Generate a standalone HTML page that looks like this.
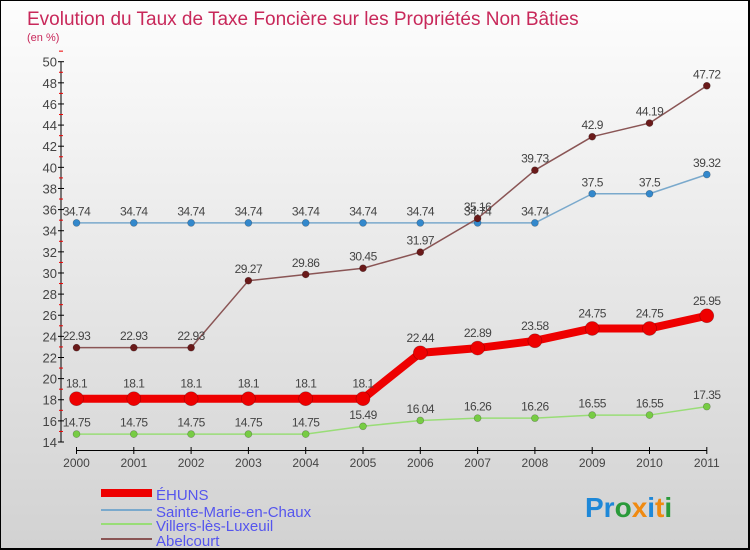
<!DOCTYPE html>
<html><head><meta charset="utf-8"><style>
body{margin:0}
#c{position:relative;width:750px;height:550px;box-sizing:border-box;border:1px solid #000;border-width:1px 2px 2px 1px;background:linear-gradient(#fdfdfd,#d2d2d2);font-family:"Liberation Sans",sans-serif;overflow:hidden}
</style></head><body>
<div id="c">
<svg width="750" height="550" style="position:absolute;left:0;top:0" id="svg">
<text x="26" y="24" font-size="19" fill="#c8285a">Evolution du Taux de Taxe Foncière sur les Propriétés Non Bâties</text>
<text x="26" y="40" font-size="11" fill="#c8285a">(en %)</text>
<g id="axes"></g><g id="series"></g>
<g font-size="15" fill="#5555ee">
<rect x="100" y="488" width="51" height="8" fill="#ee0000"/>
<text x="155" y="499">ÉHUNS</text>
<rect x="100" y="508" width="51" height="2" fill="#7aa9cc"/>
<text x="155" y="516">Sainte-Marie-en-Chaux</text>
<rect x="100" y="522" width="51" height="2" fill="#99dd77"/>
<text x="155" y="530">Villers-lès-Luxeuil</text>
<rect x="100" y="537" width="51" height="2" fill="#8a5555"/>
<text x="155" y="545">Abelcourt</text>
</g>
<text x="584" y="516" font-size="28" font-weight="bold"><tspan fill="#1e88d8">Pr</tspan><tspan fill="#2a9a3a">o</tspan><tspan fill="#f08a10">x</tspan><tspan fill="#1e88d8">i</tspan><tspan fill="#f08a10">t</tspan><tspan fill="#2a9a3a">i</tspan></text>
</svg>
</div>
<script>
const years=[2000,2001,2002,2003,2004,2005,2006,2007,2008,2009,2010,2011];
const ehuns=[18.1,18.1,18.1,18.1,18.1,18.1,22.44,22.89,23.58,24.75,24.75,25.95];
const sainteMarie=[34.74,34.74,34.74,34.74,34.74,34.74,34.74,34.74,34.74,37.5,37.5,39.32];
const villers=[14.75,14.75,14.75,14.75,14.75,15.49,16.04,16.26,16.26,16.55,16.55,17.35];
const abelcourt=[22.93,22.93,22.93,29.27,29.86,30.45,31.97,35.16,39.73,42.9,44.19,47.72];
const yTicks=[14,16,18,20,22,24,26,28,30,32,34,36,38,40,42,44,46,48,50];
const NS="http://www.w3.org/2000/svg";
const x=i=>75.5+i*57.3;
const y=v=>60.7+(50-v)*10.564;
function mk(t,a,p){const e=document.createElementNS(NS,t);for(const k in a)e.setAttribute(k,a[k]);p.appendChild(e);return e;}
const ax=document.getElementById('axes'),sg=document.getElementById('series');
const ya=mk('line',{x1:60,x2:60,y1:y(50),y2:y(14),stroke:'#000'},ax);


yTicks.forEach(v=>{
 mk('line',{x1:57,x2:63,y1:y(v),y2:y(v),stroke:'#000'},ax);
 mk('line',{x1:58,x2:62,y1:y(v+1),y2:y(v+1),stroke:'#e00'},ax);
 const t=mk('text',{x:56,y:y(v)+5,'text-anchor':'end','font-size':13,fill:'#444'},ax);t.textContent=v;
 
 
});
const xa=mk('line',{x1:x(0),x2:x(11),y1:449.5,y2:449.5,stroke:'#000'},ax);


years.forEach((yr,i)=>{
 mk('line',{x1:x(i),x2:x(i),y1:446,y2:453,stroke:'#000'},ax);
 const t=mk('text',{x:x(i),y:466,'text-anchor':'middle','font-size':12,fill:'#444'},ax);t.textContent=yr;
 
 
});
function series(d,col,dot,w,r,name){
 const g=mk('g',{},sg);
 
 
 mk('polyline',{points:d.map((v,i)=>x(i)+','+y(v)).join(' '),fill:'none',stroke:col,'stroke-width':w,'stroke-linejoin':'round'},g);
 d.forEach((v,i)=>{
  const c=mk('circle',{cx:x(i),cy:y(v),r:r,fill:dot,stroke:'rgba(0,0,0,0.3)','stroke-width':0.6},g);
  
  
  const t=mk('text',{x:x(i),y:y(v)-r-4,'text-anchor':'middle','font-size':12,fill:'#444','letter-spacing':'-0.5'},g);
  t.textContent=String(v).replace('.',v>=20||name!=='ehuns'?'.':'.');
  
  
 });
}
series(villers,'#99dd77','#77cc44',1.5,3.5,'villers');
series(sainteMarie,'#7aa9cc','#3388cc',1.5,3.5,'sainte-marie');
series(abelcourt,'#8a5555','#6a1a1a',1.5,3.5,'abelcourt');
series(ehuns,'#ee0000','#ee0000',8,7,'ehuns');
</script>
</body></html>
